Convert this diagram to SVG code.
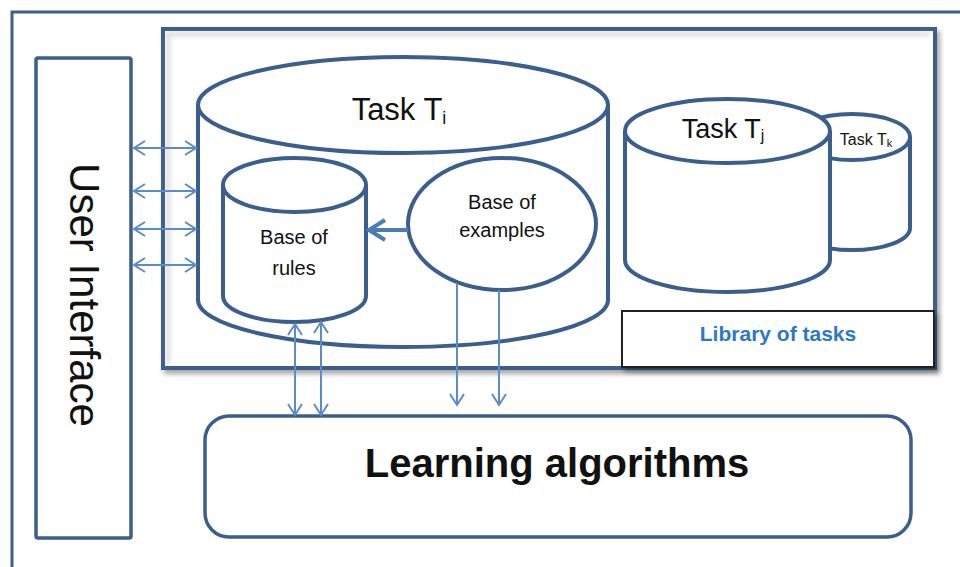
<svg xmlns="http://www.w3.org/2000/svg" width="960" height="567" viewBox="0 0 960 567">
<style>
.frame{fill:none;stroke:#3a5e8d;stroke-width:3}
.box{fill:#ffffff;stroke:#3a5e8d;stroke-width:4}
.cyl{fill:#ffffff;stroke:#3a5e8d;stroke-width:4}
.thin{fill:none;stroke:#5b8bc8;stroke-width:2}
.thick{fill:none;stroke:#4a7cba;stroke-width:4}
.t{font-family:"Liberation Sans",Arial,sans-serif;fill:#111111}
</style>
<defs>
<filter id="sh" x="-5%" y="-5%" width="115%" height="120%">
<feDropShadow dx="3" dy="4" stdDeviation="2.5" flood-color="#000000" flood-opacity="0.35"/>
</filter>
<filter id="blur"><feGaussianBlur stdDeviation="2.5"/></filter>
<marker id="ah" viewBox="-14 -9 16 18" refX="0" refY="0" markerWidth="16" markerHeight="18" markerUnits="userSpaceOnUse" orient="auto-start-reverse">
<path d="M-11,-7 L0,0 L-11,7" fill="none" stroke="#5b8bc8" stroke-width="2"/>
</marker>
<marker id="ahT" viewBox="-22 -13 25 26" refX="0" refY="0" markerWidth="25" markerHeight="26" markerUnits="userSpaceOnUse" orient="auto">
<path d="M-16,-10 L0,0 L-16,10" fill="none" stroke="#4a7cba" stroke-width="4"/>
</marker>
</defs>

<g id="outer-frame">
<rect x="12" y="12" width="1000" height="600" class="frame"/>
</g>

<g id="user-interface">
<rect x="36" y="58" width="95" height="480" rx="2" class="box" style="stroke-width:3.5"/>
<text class="t" font-size="42" text-anchor="middle" transform="translate(70,295) rotate(90)">User Interface</text>
</g>

<g id="library">
<rect x="163" y="29" width="772" height="339" class="box" filter="url(#sh)"/>
<path d="M168,365 L168,34 L930,34" fill="none" stroke="#9a9a9a" stroke-width="3" opacity="0.5" filter="url(#blur)"/>
</g>

<g id="task-ti">
<path d="M198,105 L198,300 A205,47 0 0 0 608,300 L608,105" class="cyl"/>
<ellipse cx="403" cy="105" rx="205" ry="48" class="cyl"/>
<text class="t" x="399" y="120" font-size="31" text-anchor="middle">Task T<tspan font-size="18" dy="4">i</tspan></text>
</g>

<g id="base-of-rules">
<path d="M223,185 L223,296 A71.5,26 0 0 0 366,296 L366,185" class="cyl"/>
<ellipse cx="294.5" cy="185" rx="71.5" ry="27" class="cyl"/>
<text class="t" x="294" y="244" font-size="20" text-anchor="middle">Base of</text>
<text class="t" x="294" y="275" font-size="20" text-anchor="middle">rules</text>
</g>

<g id="base-of-examples">
<ellipse cx="502" cy="224" rx="94" ry="66" class="cyl"/>
<text class="t" x="502" y="209" font-size="20" text-anchor="middle">Base of</text>
<text class="t" x="502" y="237" font-size="20" text-anchor="middle">examples</text>
</g>

<g id="task-tk">
<path d="M794,137 L794,228 A58,22 0 0 0 910,228 L910,137" class="cyl"/>
<ellipse cx="852" cy="137" rx="58" ry="23" class="cyl"/>
<text class="t" x="866" y="145" font-size="16" text-anchor="middle">Task T<tspan font-size="11" dy="2">k</tspan></text>
</g>

<g id="task-tj">
<path d="M625,131 L625,260 A102.5,32 0 0 0 830,260 L830,131" class="cyl"/>
<ellipse cx="727.5" cy="131" rx="102.5" ry="32" class="cyl"/>
<text class="t" x="723" y="138" font-size="27" text-anchor="middle">Task T<tspan font-size="16" dy="3">j</tspan></text>
</g>

<g id="library-of-tasks">
<rect x="622" y="311" width="312" height="56" fill="#ffffff" stroke="#222222" stroke-width="2" filter="url(#sh)"/>
<text x="778" y="341" font-family="'Liberation Sans',Arial,sans-serif" font-weight="bold" font-size="21" fill="#2e78c6" text-anchor="middle">Library of tasks</text>
</g>

<g id="learning-algorithms">
<rect x="205" y="416" width="706" height="121" rx="24" class="box" style="stroke-width:3.5"/>
<text class="t" x="557" y="477" font-size="40" font-weight="bold" text-anchor="middle" fill="#000000">Learning algorithms</text>
</g>

<g id="connectors">
<line x1="134" y1="148" x2="196" y2="148" class="thin" marker-start="url(#ah)" marker-end="url(#ah)"/>
<line x1="134" y1="191" x2="196" y2="191" class="thin" marker-start="url(#ah)" marker-end="url(#ah)"/>
<line x1="134" y1="229" x2="196" y2="229" class="thin" marker-start="url(#ah)" marker-end="url(#ah)"/>
<line x1="134" y1="265" x2="196" y2="265" class="thin" marker-start="url(#ah)" marker-end="url(#ah)"/>
<line x1="408" y1="230" x2="369" y2="230" class="thick" marker-end="url(#ahT)"/>
<line x1="295" y1="324" x2="295" y2="415" class="thin" marker-start="url(#ah)" marker-end="url(#ah)"/>
<line x1="321" y1="322" x2="321" y2="415" class="thin" marker-start="url(#ah)" marker-end="url(#ah)"/>
<line x1="457" y1="283" x2="457" y2="405" class="thin" marker-end="url(#ah)"/>
<line x1="499" y1="290" x2="499" y2="405" class="thin" marker-end="url(#ah)"/>
</g>
</svg>
